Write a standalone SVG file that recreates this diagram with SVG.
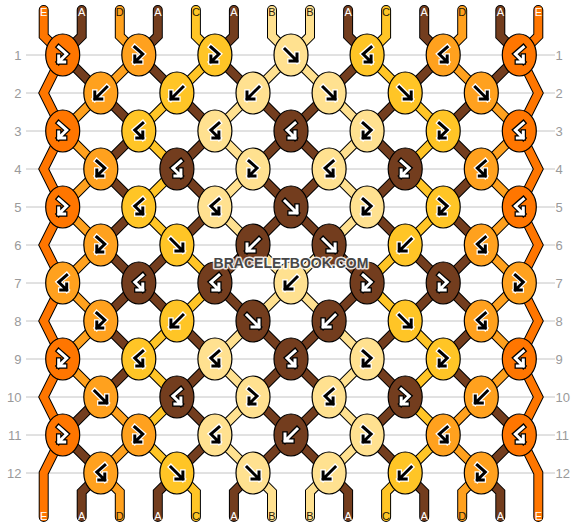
<svg xmlns="http://www.w3.org/2000/svg" xmlns:xlink="http://www.w3.org/1999/xlink" width="582" height="528" viewBox="0 0 582 528">
<style>
.grid line{stroke:#c4c4c4;stroke-width:1}
.rn{font-family:"Liberation Sans",Arial,sans-serif;font-size:13px;fill:#9a9a9a}
.rn.l{text-anchor:end}
.so{fill:none;stroke:#000;stroke-width:10;stroke-linejoin:miter;stroke-linecap:round}
.sf{fill:none;stroke-width:8;stroke-linejoin:miter;stroke-linecap:round}
.cE{stroke:#ff7600}.cD{stroke:#ffa11e}.cC{stroke:#ffc526}.cB{stroke:#ffe190}.cA{stroke:#733d1e}
ellipse{stroke:#000;stroke-width:1.2}
.kE{fill:#ff7600}.kD{fill:#ffa11e}.kC{fill:#ffc526}.kB{fill:#ffe190}.kA{fill:#733d1e}
.wo{fill:none;stroke:#000;stroke-width:5.5;stroke-linecap:square}
.wi{fill:none;stroke:#fff;stroke-width:3;stroke-linecap:square}
.bo{fill:none;stroke:#fff;stroke-width:5.5;stroke-linecap:square}
.bi{fill:none;stroke:#000;stroke-width:3;stroke-linecap:square}
.lbl{font-family:"Liberation Sans",Arial,sans-serif;font-size:11px;text-anchor:middle}
.lw{fill:#fff}.ld{fill:#2a1a08}
.wm{font-family:"Liberation Sans",Arial,sans-serif;font-size:14px;font-weight:bold;text-anchor:middle;fill:#474747;stroke:#fff;stroke-width:3;stroke-opacity:0.85;paint-order:stroke;stroke-linejoin:round}
</style>
<defs>
<path id="gF" d="M-6,-6L6,6M6,-1L6,6L-1,6"/>
<path id="gB" d="M6,-6L-6,6M-6,-1L-6,6L1,6"/>
<path id="gFB" d="M-4,-8L4,-1L-4,7M-4,1L-4,7L2,7"/>
<path id="gBF" d="M4,-8L-4,-1L4,7M4,1L4,7L-2,7"/>
<path id="t1" d="M43.7,10L43.7,36L62.7,55L43.7,93L62.7,131L43.7,169L62.7,207L43.7,245L62.7,283L43.7,321L62.7,359L43.7,397L62.7,435L43.7,473L43.7,517"/>
<path id="t2" d="M81.7,10L81.7,36L62.7,55L100.8,93L138.8,131L100.8,169L138.8,207L100.8,245L138.8,283L100.8,321L138.8,359L100.8,397L62.7,435L100.8,473L81.7,492L81.7,517"/>
<path id="t3" d="M119.8,10L119.8,36L138.8,55L100.8,93L62.7,131L100.8,169L62.7,207L100.8,245L62.7,283L100.8,321L62.7,359L100.8,397L138.8,435L100.8,473L119.8,492L119.8,517"/>
<path id="t4" d="M157.8,10L157.8,36L138.8,55L176.9,93L214.9,131L176.9,169L214.9,207L176.9,245L138.8,283L176.9,321L214.9,359L176.9,397L214.9,435L176.9,473L157.8,492L157.8,517"/>
<path id="t5" d="M195.9,10L195.9,36L214.9,55L176.9,93L138.8,131L176.9,169L138.8,207L176.9,245L214.9,283L176.9,321L138.8,359L176.9,397L138.8,435L176.9,473L195.9,492L195.9,517"/>
<path id="t6" d="M233.9,10L233.9,36L214.9,55L253,93L291,131L253,169L291,207L329.1,245L367.1,283L329.1,321L291,359L329.1,397L291,435L253,473L233.9,492L233.9,517"/>
<path id="t7" d="M272,10L272,36L291,55L329.1,93L367.1,131L329.1,169L367.1,207L329.1,245L291,283L253,321L214.9,359L253,397L214.9,435L253,473L272,492L272,517"/>
<path id="t8" d="M310,10L310,36L291,55L253,93L214.9,131L253,169L214.9,207L253,245L291,283L329.1,321L367.1,359L329.1,397L367.1,435L329.1,473L310,492L310,517"/>
<path id="t9" d="M348.1,10L348.1,36L367.1,55L329.1,93L291,131L329.1,169L291,207L253,245L214.9,283L253,321L291,359L253,397L291,435L329.1,473L348.1,492L348.1,517"/>
<path id="t10" d="M386.1,10L386.1,36L367.1,55L405.2,93L443.2,131L405.2,169L443.2,207L405.2,245L367.1,283L405.2,321L443.2,359L405.2,397L443.2,435L405.2,473L386.1,492L386.1,517"/>
<path id="t11" d="M424.2,10L424.2,36L443.2,55L405.2,93L367.1,131L405.2,169L367.1,207L405.2,245L443.2,283L405.2,321L367.1,359L405.2,397L367.1,435L405.2,473L424.2,492L424.2,517"/>
<path id="t12" d="M462.2,10L462.2,36L443.2,55L481.3,93L519.3,131L481.3,169L519.3,207L481.3,245L519.3,283L481.3,321L519.3,359L481.3,397L443.2,435L481.3,473L462.2,492L462.2,517"/>
<path id="t13" d="M500.3,10L500.3,36L519.3,55L481.3,93L443.2,131L481.3,169L443.2,207L481.3,245L443.2,283L481.3,321L443.2,359L481.3,397L519.3,435L481.3,473L500.3,492L500.3,517"/>
<path id="t14" d="M538.3,10L538.3,36L519.3,55L538.3,93L519.3,131L538.3,169L519.3,207L538.3,245L519.3,283L538.3,321L519.3,359L538.3,397L519.3,435L538.3,473L538.3,517"/>
</defs>
<rect width="582" height="528" fill="#fff"/>
<g class="grid">
<line x1="26" y1="55" x2="555" y2="55"/><line x1="26" y1="93" x2="555" y2="93"/><line x1="26" y1="131" x2="555" y2="131"/><line x1="26" y1="169" x2="555" y2="169"/><line x1="26" y1="207" x2="555" y2="207"/><line x1="26" y1="245" x2="555" y2="245"/><line x1="26" y1="283" x2="555" y2="283"/><line x1="26" y1="321" x2="555" y2="321"/><line x1="26" y1="359" x2="555" y2="359"/><line x1="26" y1="397" x2="555" y2="397"/><line x1="26" y1="435" x2="555" y2="435"/><line x1="26" y1="473" x2="555" y2="473"/>
</g>
<g id="row-numbers">
<text class="rn l" x="21.5" y="59.6">1</text><text class="rn l" x="21.5" y="97.6">2</text><text class="rn l" x="21.5" y="135.6">3</text><text class="rn l" x="21.5" y="173.6">4</text><text class="rn l" x="21.5" y="211.6">5</text><text class="rn l" x="21.5" y="249.6">6</text><text class="rn l" x="21.5" y="287.6">7</text><text class="rn l" x="21.5" y="325.6">8</text><text class="rn l" x="21.5" y="363.6">9</text><text class="rn l" x="21.5" y="401.6">10</text><text class="rn l" x="21.5" y="439.6">11</text><text class="rn l" x="21.5" y="477.6">12</text>
<text class="rn" x="555.5" y="59.6">1</text><text class="rn" x="555.5" y="97.6">2</text><text class="rn" x="555.5" y="135.6">3</text><text class="rn" x="555.5" y="173.6">4</text><text class="rn" x="555.5" y="211.6">5</text><text class="rn" x="555.5" y="249.6">6</text><text class="rn" x="555.5" y="287.6">7</text><text class="rn" x="555.5" y="325.6">8</text><text class="rn" x="555.5" y="363.6">9</text><text class="rn" x="555.5" y="401.6">10</text><text class="rn" x="555.5" y="439.6">11</text><text class="rn" x="555.5" y="477.6">12</text>
</g>
<g id="connectors">
<use href="#t1" class="so"/><use href="#t2" class="so"/><use href="#t3" class="so"/><use href="#t4" class="so"/><use href="#t5" class="so"/><use href="#t6" class="so"/><use href="#t7" class="so"/><use href="#t8" class="so"/><use href="#t9" class="so"/><use href="#t10" class="so"/><use href="#t11" class="so"/><use href="#t12" class="so"/><use href="#t13" class="so"/><use href="#t14" class="so"/>
<use href="#t1" class="sf cE"/><use href="#t2" class="sf cA"/><use href="#t3" class="sf cD"/><use href="#t4" class="sf cA"/><use href="#t5" class="sf cC"/><use href="#t6" class="sf cA"/><use href="#t7" class="sf cB"/><use href="#t8" class="sf cB"/><use href="#t9" class="sf cA"/><use href="#t10" class="sf cC"/><use href="#t11" class="sf cA"/><use href="#t12" class="sf cD"/><use href="#t13" class="sf cA"/><use href="#t14" class="sf cE"/>
</g>
<g id="string-labels">
<text class="lbl lw" x="43.7" y="16.3">E</text><text class="lbl lw" x="81.7" y="16.3">A</text><text class="lbl ld" x="119.8" y="16.3">D</text><text class="lbl lw" x="157.8" y="16.3">A</text><text class="lbl ld" x="195.9" y="16.3">C</text><text class="lbl lw" x="233.9" y="16.3">A</text><text class="lbl ld" x="272" y="16.3">B</text><text class="lbl ld" x="310" y="16.3">B</text><text class="lbl lw" x="348.1" y="16.3">A</text><text class="lbl ld" x="386.1" y="16.3">C</text><text class="lbl lw" x="424.2" y="16.3">A</text><text class="lbl ld" x="462.2" y="16.3">D</text><text class="lbl lw" x="500.3" y="16.3">A</text><text class="lbl lw" x="538.3" y="16.3">E</text>
<text class="lbl lw" x="43.7" y="520">E</text><text class="lbl lw" x="81.7" y="520">A</text><text class="lbl ld" x="119.8" y="520">D</text><text class="lbl lw" x="157.8" y="520">A</text><text class="lbl ld" x="195.9" y="520">C</text><text class="lbl lw" x="233.9" y="520">A</text><text class="lbl ld" x="272" y="520">B</text><text class="lbl ld" x="310" y="520">B</text><text class="lbl lw" x="348.1" y="520">A</text><text class="lbl ld" x="386.1" y="520">C</text><text class="lbl lw" x="424.2" y="520">A</text><text class="lbl ld" x="462.2" y="520">D</text><text class="lbl lw" x="500.3" y="520">A</text><text class="lbl lw" x="538.3" y="520">E</text>
</g>
<g id="knots">
<g id="r1k1" transform="translate(62.7,55)"><ellipse class="kE" rx="17" ry="21"/><use href="#gFB" class="wo"/><use href="#gFB" class="wi"/></g>
<g id="r1k2" transform="translate(138.8,55)"><ellipse class="kD" rx="17" ry="21"/><use href="#gFB" class="bo"/><use href="#gFB" class="bi"/></g>
<g id="r1k3" transform="translate(214.9,55)"><ellipse class="kC" rx="17" ry="21"/><use href="#gFB" class="bo"/><use href="#gFB" class="bi"/></g>
<g id="r1k4" transform="translate(291,55)"><ellipse class="kB" rx="17" ry="21"/><use href="#gF" class="bo"/><use href="#gF" class="bi"/></g>
<g id="r1k5" transform="translate(367.1,55)"><ellipse class="kC" rx="17" ry="21"/><use href="#gBF" class="bo"/><use href="#gBF" class="bi"/></g>
<g id="r1k6" transform="translate(443.2,55)"><ellipse class="kD" rx="17" ry="21"/><use href="#gBF" class="bo"/><use href="#gBF" class="bi"/></g>
<g id="r1k7" transform="translate(519.3,55)"><ellipse class="kE" rx="17" ry="21"/><use href="#gBF" class="wo"/><use href="#gBF" class="wi"/></g>

<g id="r2k1" transform="translate(100.8,93)"><ellipse class="kD" rx="17" ry="21"/><use href="#gB" class="bo"/><use href="#gB" class="bi"/></g>
<g id="r2k2" transform="translate(176.9,93)"><ellipse class="kC" rx="17" ry="21"/><use href="#gB" class="bo"/><use href="#gB" class="bi"/></g>
<g id="r2k3" transform="translate(253,93)"><ellipse class="kB" rx="17" ry="21"/><use href="#gB" class="bo"/><use href="#gB" class="bi"/></g>
<g id="r2k4" transform="translate(329.1,93)"><ellipse class="kB" rx="17" ry="21"/><use href="#gF" class="bo"/><use href="#gF" class="bi"/></g>
<g id="r2k5" transform="translate(405.2,93)"><ellipse class="kC" rx="17" ry="21"/><use href="#gF" class="bo"/><use href="#gF" class="bi"/></g>
<g id="r2k6" transform="translate(481.3,93)"><ellipse class="kD" rx="17" ry="21"/><use href="#gF" class="bo"/><use href="#gF" class="bi"/></g>

<g id="r3k1" transform="translate(62.7,131)"><ellipse class="kE" rx="17" ry="21"/><use href="#gFB" class="wo"/><use href="#gFB" class="wi"/></g>
<g id="r3k2" transform="translate(138.8,131)"><ellipse class="kC" rx="17" ry="21"/><use href="#gBF" class="bo"/><use href="#gBF" class="bi"/></g>
<g id="r3k3" transform="translate(214.9,131)"><ellipse class="kB" rx="17" ry="21"/><use href="#gBF" class="bo"/><use href="#gBF" class="bi"/></g>
<g id="r3k4" transform="translate(291,131)"><ellipse class="kA" rx="17" ry="21"/><use href="#gBF" class="wo"/><use href="#gBF" class="wi"/></g>
<g id="r3k5" transform="translate(367.1,131)"><ellipse class="kB" rx="17" ry="21"/><use href="#gFB" class="bo"/><use href="#gFB" class="bi"/></g>
<g id="r3k6" transform="translate(443.2,131)"><ellipse class="kC" rx="17" ry="21"/><use href="#gFB" class="bo"/><use href="#gFB" class="bi"/></g>
<g id="r3k7" transform="translate(519.3,131)"><ellipse class="kE" rx="17" ry="21"/><use href="#gBF" class="wo"/><use href="#gBF" class="wi"/></g>

<g id="r4k1" transform="translate(100.8,169)"><ellipse class="kD" rx="17" ry="21"/><use href="#gFB" class="bo"/><use href="#gFB" class="bi"/></g>
<g id="r4k2" transform="translate(176.9,169)"><ellipse class="kA" rx="17" ry="21"/><use href="#gBF" class="wo"/><use href="#gBF" class="wi"/></g>
<g id="r4k3" transform="translate(253,169)"><ellipse class="kB" rx="17" ry="21"/><use href="#gFB" class="bo"/><use href="#gFB" class="bi"/></g>
<g id="r4k4" transform="translate(329.1,169)"><ellipse class="kB" rx="17" ry="21"/><use href="#gBF" class="bo"/><use href="#gBF" class="bi"/></g>
<g id="r4k5" transform="translate(405.2,169)"><ellipse class="kA" rx="17" ry="21"/><use href="#gFB" class="wo"/><use href="#gFB" class="wi"/></g>
<g id="r4k6" transform="translate(481.3,169)"><ellipse class="kD" rx="17" ry="21"/><use href="#gBF" class="bo"/><use href="#gBF" class="bi"/></g>

<g id="r5k1" transform="translate(62.7,207)"><ellipse class="kE" rx="17" ry="21"/><use href="#gFB" class="wo"/><use href="#gFB" class="wi"/></g>
<g id="r5k2" transform="translate(138.8,207)"><ellipse class="kC" rx="17" ry="21"/><use href="#gBF" class="bo"/><use href="#gBF" class="bi"/></g>
<g id="r5k3" transform="translate(214.9,207)"><ellipse class="kB" rx="17" ry="21"/><use href="#gBF" class="bo"/><use href="#gBF" class="bi"/></g>
<g id="r5k4" transform="translate(291,207)"><ellipse class="kA" rx="17" ry="21"/><use href="#gF" class="wo"/><use href="#gF" class="wi"/></g>
<g id="r5k5" transform="translate(367.1,207)"><ellipse class="kB" rx="17" ry="21"/><use href="#gFB" class="bo"/><use href="#gFB" class="bi"/></g>
<g id="r5k6" transform="translate(443.2,207)"><ellipse class="kC" rx="17" ry="21"/><use href="#gFB" class="bo"/><use href="#gFB" class="bi"/></g>
<g id="r5k7" transform="translate(519.3,207)"><ellipse class="kE" rx="17" ry="21"/><use href="#gBF" class="wo"/><use href="#gBF" class="wi"/></g>

<g id="r6k1" transform="translate(100.8,245)"><ellipse class="kD" rx="17" ry="21"/><use href="#gFB" class="bo"/><use href="#gFB" class="bi"/></g>
<g id="r6k2" transform="translate(176.9,245)"><ellipse class="kC" rx="17" ry="21"/><use href="#gF" class="bo"/><use href="#gF" class="bi"/></g>
<g id="r6k3" transform="translate(253,245)"><ellipse class="kA" rx="17" ry="21"/><use href="#gB" class="wo"/><use href="#gB" class="wi"/></g>
<g id="r6k4" transform="translate(329.1,245)"><ellipse class="kA" rx="17" ry="21"/><use href="#gF" class="wo"/><use href="#gF" class="wi"/></g>
<g id="r6k5" transform="translate(405.2,245)"><ellipse class="kC" rx="17" ry="21"/><use href="#gB" class="bo"/><use href="#gB" class="bi"/></g>
<g id="r6k6" transform="translate(481.3,245)"><ellipse class="kD" rx="17" ry="21"/><use href="#gBF" class="bo"/><use href="#gBF" class="bi"/></g>

<g id="r7k1" transform="translate(62.7,283)"><ellipse class="kD" rx="17" ry="21"/><use href="#gBF" class="bo"/><use href="#gBF" class="bi"/></g>
<g id="r7k2" transform="translate(138.8,283)"><ellipse class="kA" rx="17" ry="21"/><use href="#gBF" class="wo"/><use href="#gBF" class="wi"/></g>
<g id="r7k3" transform="translate(214.9,283)"><ellipse class="kA" rx="17" ry="21"/><use href="#gBF" class="wo"/><use href="#gBF" class="wi"/></g>
<g id="r7k4" transform="translate(291,283)"><ellipse class="kB" rx="17" ry="21"/><use href="#gB" class="bo"/><use href="#gB" class="bi"/></g>
<g id="r7k5" transform="translate(367.1,283)"><ellipse class="kA" rx="17" ry="21"/><use href="#gFB" class="wo"/><use href="#gFB" class="wi"/></g>
<g id="r7k6" transform="translate(443.2,283)"><ellipse class="kA" rx="17" ry="21"/><use href="#gFB" class="wo"/><use href="#gFB" class="wi"/></g>
<g id="r7k7" transform="translate(519.3,283)"><ellipse class="kD" rx="17" ry="21"/><use href="#gFB" class="bo"/><use href="#gFB" class="bi"/></g>

<g id="r8k1" transform="translate(100.8,321)"><ellipse class="kD" rx="17" ry="21"/><use href="#gFB" class="bo"/><use href="#gFB" class="bi"/></g>
<g id="r8k2" transform="translate(176.9,321)"><ellipse class="kC" rx="17" ry="21"/><use href="#gB" class="bo"/><use href="#gB" class="bi"/></g>
<g id="r8k3" transform="translate(253,321)"><ellipse class="kA" rx="17" ry="21"/><use href="#gF" class="wo"/><use href="#gF" class="wi"/></g>
<g id="r8k4" transform="translate(329.1,321)"><ellipse class="kA" rx="17" ry="21"/><use href="#gB" class="wo"/><use href="#gB" class="wi"/></g>
<g id="r8k5" transform="translate(405.2,321)"><ellipse class="kC" rx="17" ry="21"/><use href="#gF" class="bo"/><use href="#gF" class="bi"/></g>
<g id="r8k6" transform="translate(481.3,321)"><ellipse class="kD" rx="17" ry="21"/><use href="#gBF" class="bo"/><use href="#gBF" class="bi"/></g>

<g id="r9k1" transform="translate(62.7,359)"><ellipse class="kE" rx="17" ry="21"/><use href="#gFB" class="wo"/><use href="#gFB" class="wi"/></g>
<g id="r9k2" transform="translate(138.8,359)"><ellipse class="kC" rx="17" ry="21"/><use href="#gBF" class="bo"/><use href="#gBF" class="bi"/></g>
<g id="r9k3" transform="translate(214.9,359)"><ellipse class="kB" rx="17" ry="21"/><use href="#gBF" class="bo"/><use href="#gBF" class="bi"/></g>
<g id="r9k4" transform="translate(291,359)"><ellipse class="kA" rx="17" ry="21"/><use href="#gBF" class="wo"/><use href="#gBF" class="wi"/></g>
<g id="r9k5" transform="translate(367.1,359)"><ellipse class="kB" rx="17" ry="21"/><use href="#gFB" class="bo"/><use href="#gFB" class="bi"/></g>
<g id="r9k6" transform="translate(443.2,359)"><ellipse class="kC" rx="17" ry="21"/><use href="#gFB" class="bo"/><use href="#gFB" class="bi"/></g>
<g id="r9k7" transform="translate(519.3,359)"><ellipse class="kE" rx="17" ry="21"/><use href="#gBF" class="wo"/><use href="#gBF" class="wi"/></g>

<g id="r10k1" transform="translate(100.8,397)"><ellipse class="kD" rx="17" ry="21"/><use href="#gF" class="bo"/><use href="#gF" class="bi"/></g>
<g id="r10k2" transform="translate(176.9,397)"><ellipse class="kA" rx="17" ry="21"/><use href="#gBF" class="wo"/><use href="#gBF" class="wi"/></g>
<g id="r10k3" transform="translate(253,397)"><ellipse class="kB" rx="17" ry="21"/><use href="#gFB" class="bo"/><use href="#gFB" class="bi"/></g>
<g id="r10k4" transform="translate(329.1,397)"><ellipse class="kB" rx="17" ry="21"/><use href="#gBF" class="bo"/><use href="#gBF" class="bi"/></g>
<g id="r10k5" transform="translate(405.2,397)"><ellipse class="kA" rx="17" ry="21"/><use href="#gFB" class="wo"/><use href="#gFB" class="wi"/></g>
<g id="r10k6" transform="translate(481.3,397)"><ellipse class="kD" rx="17" ry="21"/><use href="#gB" class="bo"/><use href="#gB" class="bi"/></g>

<g id="r11k1" transform="translate(62.7,435)"><ellipse class="kE" rx="17" ry="21"/><use href="#gFB" class="wo"/><use href="#gFB" class="wi"/></g>
<g id="r11k2" transform="translate(138.8,435)"><ellipse class="kD" rx="17" ry="21"/><use href="#gFB" class="bo"/><use href="#gFB" class="bi"/></g>
<g id="r11k3" transform="translate(214.9,435)"><ellipse class="kB" rx="17" ry="21"/><use href="#gBF" class="bo"/><use href="#gBF" class="bi"/></g>
<g id="r11k4" transform="translate(291,435)"><ellipse class="kA" rx="17" ry="21"/><use href="#gB" class="wo"/><use href="#gB" class="wi"/></g>
<g id="r11k5" transform="translate(367.1,435)"><ellipse class="kB" rx="17" ry="21"/><use href="#gFB" class="bo"/><use href="#gFB" class="bi"/></g>
<g id="r11k6" transform="translate(443.2,435)"><ellipse class="kD" rx="17" ry="21"/><use href="#gBF" class="bo"/><use href="#gBF" class="bi"/></g>
<g id="r11k7" transform="translate(519.3,435)"><ellipse class="kE" rx="17" ry="21"/><use href="#gBF" class="wo"/><use href="#gBF" class="wi"/></g>

<g id="r12k1" transform="translate(100.8,473)"><ellipse class="kD" rx="17" ry="21"/><use href="#gBF" class="bo"/><use href="#gBF" class="bi"/></g>
<g id="r12k2" transform="translate(176.9,473)"><ellipse class="kC" rx="17" ry="21"/><use href="#gF" class="bo"/><use href="#gF" class="bi"/></g>
<g id="r12k3" transform="translate(253,473)"><ellipse class="kB" rx="17" ry="21"/><use href="#gF" class="bo"/><use href="#gF" class="bi"/></g>
<g id="r12k4" transform="translate(329.1,473)"><ellipse class="kB" rx="17" ry="21"/><use href="#gB" class="bo"/><use href="#gB" class="bi"/></g>
<g id="r12k5" transform="translate(405.2,473)"><ellipse class="kC" rx="17" ry="21"/><use href="#gB" class="bo"/><use href="#gB" class="bi"/></g>
<g id="r12k6" transform="translate(481.3,473)"><ellipse class="kD" rx="17" ry="21"/><use href="#gFB" class="bo"/><use href="#gFB" class="bi"/></g>
</g>
<text class="wm" x="291" y="268">BRACELETBOOK.COM</text>
</svg>
